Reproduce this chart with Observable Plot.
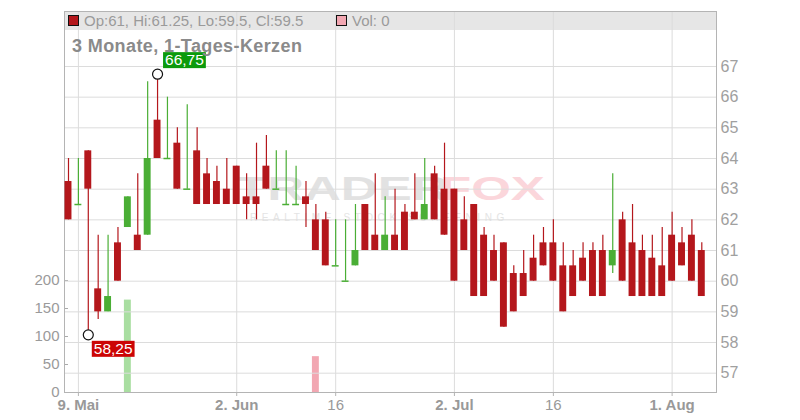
<!DOCTYPE html>
<html><head><meta charset="utf-8">
<script src="https://cdn.jsdelivr.net/npm/d3@7"></script>
<script src="https://cdn.jsdelivr.net/npm/@observablehq/plot@0.6"></script>
<style>
body{margin:0;background:#fff;font-family:"Liberation Sans",Arial,sans-serif;}
#wrap{position:relative;width:800px;height:420px;overflow:hidden;}
#wrap svg{position:absolute;left:0;top:0;}
.abs{position:absolute;white-space:nowrap;}
#band{left:64px;top:11px;width:652px;height:19px;background:#e6e6e6;}
.sq{width:9px;height:9px;border:1px solid #111;top:15px;}
.hdr{top:12px;font-size:15px;color:#9a9a9a;line-height:18px;}
#title{left:72px;top:36px;font-size:18px;font-weight:bold;color:#8a8a8a;letter-spacing:0.4px;}
.wm{font-weight:bold;font-size:34px;transform-origin:0 0;transform:scaleX(1.5);line-height:34px;}
</style></head><body>
<div id="wrap">
  <div id="band" class="abs"></div>
  <div class="abs wm" style="left:236px;top:171px;color:#e2e2e2;">TRADER</div>
  <div class="abs wm" style="left:440px;top:171px;color:#fbd6db;">FOX</div>
  <div class="abs" style="left:250px;top:212px;font-size:10px;letter-spacing:4.6px;color:#e4e4e4;">REALTIME STOCK SCREENING</div>
  <div id="volPlot"></div>
  <div id="pricePlot"></div>
  <div id="sqO" class="abs sq" style="left:68px;"></div>
  <div id="hdrO" class="abs hdr" style="left:84px;"></div>
  <div id="sqV" class="abs sq" style="left:336px;"></div>
  <div id="hdrV" class="abs hdr" style="left:352px;"></div>
  <div id="title" class="abs">3 Monate, 1-Tages-Kerzen</div>
</div>
<script>
const dates = [
"2025-05-08","2025-05-09","2025-05-12","2025-05-13","2025-05-14","2025-05-15","2025-05-16",
"2025-05-19","2025-05-20","2025-05-21","2025-05-22","2025-05-23",
"2025-05-26","2025-05-27","2025-05-28","2025-05-29","2025-05-30",
"2025-06-02","2025-06-03","2025-06-04","2025-06-05","2025-06-06",
"2025-06-09","2025-06-10","2025-06-11","2025-06-12","2025-06-13",
"2025-06-16","2025-06-17","2025-06-18","2025-06-19","2025-06-20",
"2025-06-23","2025-06-24","2025-06-25","2025-06-26","2025-06-27",
"2025-06-30","2025-07-01","2025-07-02","2025-07-03","2025-07-04",
"2025-07-07","2025-07-08","2025-07-09","2025-07-10","2025-07-11",
"2025-07-14","2025-07-15","2025-07-16","2025-07-17","2025-07-18",
"2025-07-21","2025-07-22","2025-07-23","2025-07-24","2025-07-25",
"2025-07-28","2025-07-29","2025-07-30","2025-07-31","2025-08-01",
"2025-08-04","2025-08-05","2025-08-06"];
const opens = [63.25,62.5,64.25,59.75,59,61.25,61.75,61.5,61.5,65.25,64,64.5,63,64.25,63.5,63.25,63,63.75,62.75,62.75,63.75,63,62.5,62.5,62.75,62,62,60.5,60,60.5,62.5,61.5,61,61.5,62.25,62.25,62,63.5,63,63,62,62.5,61.5,61,61.25,60.25,60.25,60.75,61.25,61.25,60.5,60.5,60.75,61,61,60.5,62,61.25,61,60.75,60.5,61.5,61.25,61.5,61];
const highs = [64,64,64.25,61.5,61.5,61.75,62.75,63.5,66.5,66.75,66,65,65.75,65,64,63.75,64,63.75,63.5,64.5,64.75,64.25,64.25,63.75,63.25,62.5,62.25,62,62,62.5,62.5,63.5,62.75,63,62.5,63.5,64,63.75,64.5,63,62.75,62.5,61.75,61.5,61.25,60.5,61,61.5,61.75,62,61.25,61,61.25,61.25,61.5,63.5,62.25,62.5,61.5,61.5,61.75,62.25,61.75,62,61.25];
const lows = [62,62.5,58.25,58.75,59,60,61.75,61,61.5,64,64,63,63,62.5,62.5,62.5,62.5,62.5,62,62,63,63,62.5,62.5,61.75,61,60.5,60.5,60,60.5,61,61,61,61,61,62,62,62,61.5,60,61,59.5,59.5,60,58.5,59,59.5,60,60.5,60,59,59.5,60,59.5,59.5,60.25,60,59.5,59.5,59.5,59.5,60,60.5,60,59.5];
const closes = [62,62.5,63,59,59.5,60,62.75,61,64,64,64,63,63,62.5,62.5,62.5,62.5,62.5,62.5,62.5,63,63,62.5,62.5,62.5,61,60.5,60.5,60,61,61,61,61.5,61,61,62,62.5,62,61.5,60,61,59.5,59.5,60,58.5,59,59.5,60,60.5,60,59,59.5,60,59.5,59.5,61,60,59.5,59.5,59.5,59.5,60,60.5,60,59.5];
const volumes = [0,0,0,0,0,0,165,0,0,0,0,0,0,0,0,0,0,0,0,0,0,0,0,0,0,64,0,0,0,0,0,0,0,0,0,0,0,0,0,0,0,0,0,0,0,0,0,0,0,0,0,0,0,0,0,0,0,0,0,0,0,0,0,0,0];
const tickDates = ["2025-05-09","2025-06-02","2025-06-16","2025-07-02","2025-07-16","2025-08-01"];
const tickLabels = ["9. Mai","2. Jun","16","2. Jul","16","1. Aug"];
const tickBold = [true,true,false,true,false,true];
const priceTicks = [57,58,59,60,61,62,63,64,65,66,67];
const volTicks = [0,50,100,150,200];

const RED = "#b4171c", GREEN = "#4aae35", VOLGREEN = "#a9dea1", VOLRED = "#f2a7b2";
const data = dates.map((d,i)=>({date:d, open:opens[i], high:highs[i], low:lows[i], close:closes[i], vol:volumes[i]}));
const isUp = d => d.close >= d.open;
const ups = data.filter(isUp), downs = data.filter(d=>!isUp(d));
const labelOf = Object.fromEntries(tickDates.map((d,i)=>[d,tickLabels[i]]));
const boldTicks = tickDates.filter((d,i)=>tickBold[i]);
const normTicks = tickDates.filter((d,i)=>!tickBold[i]);
const fmt = v => String(v).replace(".", ",");
const hiPt = data.reduce((a,b)=> b.high > a.high ? b : a);
const loPt = data.reduce((a,b)=> b.low < a.low ? b : a);

const xScale = {type:"band", domain:dates, range:[63.05,706.25], paddingInner:0.3, paddingOuter:0.15, align:0.5};
const common = {width:800, height:420, marginTop:11, marginBottom:28, marginLeft:64, marginRight:84,
  style:{background:"transparent", fontFamily:"'Liberation Sans',Arial,sans-serif"}};

const vol = Plot.plot({...common,
  x: {...xScale, axis:null},
  y: {domain:[0,200], range:[392,280], axis:null},
  marks: [
    Plot.barY(data.filter(d=>d.vol>0 && isUp(d)), {x:"date", y:"vol", fill:VOLGREEN}),
    Plot.barY(data.filter(d=>d.vol>0 && !isUp(d)), {x:"date", y:"vol", fill:VOLRED}),
    Plot.axisY(volTicks, {anchor:"left", tickSize:4, dx:4, tickPadding:5, fontSize:15, fill:"#9a9a9a", stroke:"#aaa", label:null})
  ]});
document.getElementById("volPlot").appendChild(vol);

const hiText = fmt(hiPt.high), loText = fmt(loPt.low);
const price = Plot.plot({...common,
  x: {...xScale, axis:null},
  y: {domain:[57,67], range:[372.7,66], axis:null},
  marks: [
    Plot.gridY(priceTicks, {stroke:"#dcdcdc", strokeOpacity:1}),
    Plot.gridX(tickDates, {stroke:"#dcdcdc", strokeOpacity:1}),
    Plot.frame({stroke:"#b4b4b4"}),
    Plot.axisY(priceTicks, {anchor:"right", tickSize:0, tickPadding:4, fontSize:16, fill:"#a0a0a0", label:null}),
    Plot.axisX(boldTicks, {tickFormat:d=>labelOf[d], tickSize:4, tickPadding:3, fontSize:15, fontWeight:"bold", fill:"#999", stroke:"#b4b4b4", label:null}),
    Plot.axisX(normTicks, {tickFormat:d=>labelOf[d], tickSize:4, tickPadding:3, fontSize:15, fill:"#999", stroke:"#b4b4b4", label:null}),
    Plot.ruleX(ups, {x:"date", y1:"low", y2:"high", stroke:GREEN, strokeWidth:1.2}),
    Plot.ruleX(downs, {x:"date", y1:"low", y2:"high", stroke:RED, strokeWidth:1.2}),
    Plot.barY(ups.filter(d=>d.open!==d.close), {x:"date", y1:"open", y2:"close", fill:GREEN}),
    Plot.tickY(ups.filter(d=>d.open===d.close), {x:"date", y:"close", stroke:GREEN, strokeWidth:1.5}),
    Plot.barY(downs, {x:"date", y1:"open", y2:"close", fill:RED}),
    Plot.dot([hiPt], {x:"date", y:"high", r:5, stroke:"#111", fill:"white", strokeWidth:1.2}),
    Plot.dot([loPt], {x:"date", y:"low", r:5, stroke:"#111", fill:"white", strokeWidth:1.2}),
    Plot.text([hiPt], {x:"date", y:"high", text:()=>hiText, textAnchor:"start", dx:7.5, dy:-14, fontSize:15.5, fill:"white"}),
    Plot.text([loPt], {x:"date", y:"low", text:()=>loText, textAnchor:"start", dx:5.5, dy:14, fontSize:15.5, fill:"white"})
  ]});
document.getElementById("pricePlot").appendChild(price);

function boxify(str, color){
  price.querySelectorAll("text").forEach(t=>{
    if (t.textContent !== str) return;
    const b = t.getBBox();
    const r = document.createElementNS("http://www.w3.org/2000/svg","rect");
    r.setAttribute("x", b.x-2); r.setAttribute("y", b.y+1);
    r.setAttribute("width", b.width+4); r.setAttribute("height", b.height-1);
    r.setAttribute("fill", color);
    if (t.getAttribute("transform")) r.setAttribute("transform", t.getAttribute("transform"));
    t.parentNode.insertBefore(r, t);
  });
}
boxify(hiText, "#0c9a0c");
boxify(loText, "#cc0505");

const last = data[data.length-1];
document.getElementById("sqO").style.background = isUp(last) ? GREEN : RED;
document.getElementById("sqV").style.background = isUp(last) ? VOLGREEN : VOLRED;
document.getElementById("hdrO").textContent = `Op:${last.open}, Hi:${last.high}, Lo:${last.low}, Cl:${last.close}`;
document.getElementById("hdrV").textContent = `Vol: ${last.vol}`;
</script>
</body></html>
